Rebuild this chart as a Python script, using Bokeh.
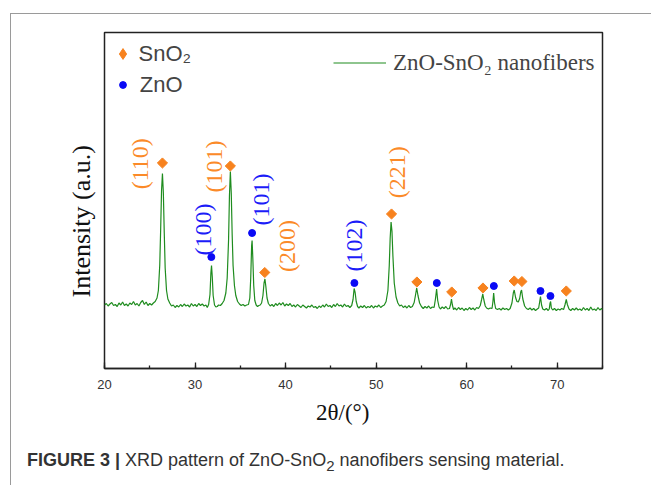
import numpy as np
from bokeh.plotting import figure
from bokeh.models import (ColumnDataSource, Legend, LegendItem, Range1d, SingleIntervalTicker,
                          Title, Div)
from bokeh.layouts import column
from bokeh.embed import file_html
from bokeh.resources import INLINE
from bokeh.core.properties import value

# ---------------- data ----------------
two_theta = [
    20.0, 20.2, 20.4, 20.6, 20.8, 21.0, 21.2, 21.4, 21.6, 21.8, 22.0, 22.2, 22.4, 22.6, 22.8,
    23.0, 23.2, 23.4, 23.6, 23.8, 24.0, 24.2, 24.4, 24.6, 24.8, 25.0, 25.2, 25.4,
    25.6, 25.8, 25.95, 26.1, 26.2, 26.3, 26.4, 26.5, 26.6, 26.7, 26.85, 27.0, 27.2,
    27.4, 27.6, 27.8, 28.0, 28.2, 28.4, 28.6, 28.8, 29.0, 29.2, 29.4, 29.6, 29.8, 30.0,
    30.2, 30.4, 30.6, 30.8, 31.0, 31.2, 31.35,
    31.5, 31.65, 31.75, 31.82, 31.9, 32.0, 32.15, 32.3, 32.45, 32.6, 32.8, 33.0,
    33.2, 33.4, 33.55, 33.7, 33.8, 33.9, 34.0, 34.1, 34.2, 34.35, 34.5, 34.7, 34.9,
    35.1, 35.3, 35.5, 35.7, 35.9,
    36.05, 36.15, 36.25, 36.3, 36.38, 36.48, 36.6, 36.75, 36.9, 37.05, 37.2, 37.35,
    37.5, 37.62, 37.72, 37.82, 37.95, 38.1, 38.3,
    38.5, 38.7, 38.9, 39.1, 39.3, 39.5, 39.7, 39.9, 40.1, 40.3, 40.5, 40.7, 40.9, 41.1,
    41.3, 41.5, 41.7, 41.9, 42.1, 42.3, 42.5, 42.7, 42.9, 43.1, 43.3, 43.5, 43.7, 43.9,
    44.1, 44.3, 44.5, 44.7, 44.9, 45.1, 45.3, 45.5, 45.7, 45.9, 46.1, 46.3, 46.5, 46.7,
    46.9, 47.1,
    47.3, 47.45, 47.57, 47.68, 47.8, 47.95, 48.1,
    48.3, 48.5, 48.7, 48.9, 49.1, 49.3, 49.5, 49.7, 49.9, 50.1, 50.3, 50.5, 50.7, 50.9,
    51.1, 51.3, 51.45, 51.55, 51.65, 51.75, 51.85, 52.0, 52.2, 52.4, 52.6, 52.8, 53.0,
    53.2, 53.4, 53.6, 53.8, 54.0,
    54.2, 54.35, 54.48, 54.62, 54.8, 55.0, 55.2, 55.4, 55.6, 55.8, 56.0, 56.2, 56.4,
    56.55, 56.68, 56.8, 56.95, 57.1, 57.3, 57.5, 57.7, 57.9, 58.1,
    58.22, 58.32, 58.42, 58.55, 58.7, 58.9, 59.1, 59.3, 59.5, 59.7, 59.9, 60.1, 60.3,
    60.5, 60.7, 60.9, 61.1, 61.3,
    61.5, 61.65, 61.78, 61.9, 62.05, 62.2, 62.4, 62.6, 62.8,
    62.9, 62.98, 63.08, 63.2, 63.4, 63.6, 63.8, 64.0, 64.2, 64.4, 64.6, 64.8,
    65.0, 65.15, 65.25, 65.4, 65.55, 65.7, 65.85, 65.97, 66.06, 66.2, 66.4, 66.6, 66.8,
    67.0, 67.2, 67.4, 67.6, 67.8,
    67.95, 68.05, 68.15, 68.27, 68.4, 68.6, 68.8, 69.0, 69.12,
    69.2, 69.27, 69.35, 69.5, 69.7, 69.9, 70.1, 70.3, 70.5, 70.7,
    70.85, 71.0, 71.12, 71.3, 71.5, 71.7, 71.9, 72.1, 72.3, 72.5, 72.7, 72.9, 73.1,
    73.3, 73.5, 73.7, 73.9, 74.1, 74.3, 74.5, 74.7, 74.9, 75.0,
]
intensity = [
    121, 124, 119, 123, 126, 120, 122, 118, 125, 121, 127, 120, 123, 119, 125,
    122, 128, 121, 124, 119, 126, 130, 122, 127, 120, 124, 121, 125,
    128, 135, 150, 200, 270, 350, 384, 345, 265, 195, 150, 133, 125,
    119, 121, 116, 120, 117, 122, 118, 123, 119, 121, 117, 124, 119, 122,
    118, 124, 120, 123, 119, 121, 116,
    122, 142, 185, 200, 178, 140, 121, 117, 118, 121, 120, 124,
    130, 145, 175, 250, 340, 388, 345, 262, 200, 160, 140, 128, 123,
    120, 122, 119, 121, 122,
    135, 175, 240, 250, 215, 160, 130, 121, 118, 120, 121, 125,
    140, 165, 173, 158, 135, 124, 119,
    122, 118, 124, 120, 125, 121, 126, 119, 123, 120, 124, 118, 121, 117,
    122, 119, 116, 121, 118, 115, 119, 117, 121, 116, 118, 114, 119, 116,
    121, 117, 123, 118, 120, 116, 122, 118, 124, 119, 121, 117, 123, 118,
    120, 116,
    120, 132, 154, 146, 128, 118, 115,
    119, 116, 120, 115, 118, 116, 120, 115, 119, 117, 121, 116, 119, 121,
    128, 150, 200, 255, 287, 268, 220, 165, 137, 125, 119, 121, 116,
    119, 115, 120, 116, 118,
    126, 141, 155, 140, 125, 118, 114, 118, 115, 119, 114, 117, 116,
    133, 153, 130, 117, 113, 117, 114, 118, 113, 114,
    122, 133, 121, 112, 115, 111, 116, 112, 115, 110, 114, 111, 116,
    112, 115, 111, 116, 114,
    120, 132, 143, 131, 119, 115, 113, 115, 114,
    128, 145, 125, 114, 112, 114, 111, 115, 112, 114, 111, 114,
    125, 145, 151, 136, 128, 127, 134, 147, 151, 133, 119, 114, 112,
    115, 111, 114, 110, 113,
    115, 126, 138, 121, 113, 111, 114, 110, 113,
    124, 128, 115, 111, 114, 110, 113, 111, 114, 112,
    121, 132, 122, 113, 110, 114, 111, 115, 111, 113, 110, 116, 111,
    114, 110, 117, 111, 113, 110, 116, 111, 114, 112,
]

# reflection markers (2theta, marker height)
sno2_theta = [26.4, 33.9, 37.7, 51.7, 54.5, 58.35, 61.8, 65.25, 66.1, 71.0]
sno2_mark = [405, 399, 186, 303, 167, 147, 155, 169, 168, 149]
zno_theta = [31.8, 36.3, 47.6, 56.7, 63.0, 68.15, 69.25]
zno_mark = [217, 265, 165, 165, 159, 149, 139]

# Miller-index labels: text, phase, index of the reflection in that phase's list
hkl_text = ["(110)", "(100)", "(101)", "(101)", "(200)", "(102)", "(221)"]
hkl_phase = ["SnO2", "ZnO", "SnO2", "ZnO", "SnO2", "ZnO", "SnO2"]
hkl_index = [0, 0, 1, 1, 2, 2, 3]

x_ticks = [20, 30, 40, 50, 60, 70]

# ---------------- styling / layout ----------------
GREEN = "#1f8c1f"
ORANGE = "#f7821e"
BLUE = "#0a0af5"
ORANGE_TXT = "#fb8a28"
BLUE_TXT = "#1c1cf8"
# pixel offsets of the hkl labels from their markers (dx, dy; dy down)
hkl_dx = [-22.7, -8.3, -15.9, 8.5, 22.2, -0.8, 5.7]
hkl_dy = [0.8, -27.5, 0.5, -33.5, -26.4, -37.5, -41.8]

W, H = 640, 430
FL, FR, FT, FB = 93, 49, 18, 76
X0, X1 = 20, 75
Y0, Y1 = -6, 666

p = figure(width=W, height=H, output_backend="svg", toolbar_location=None,
           x_range=Range1d(X0, X1), y_range=Range1d(Y0, Y1),
           y_axis_location=None,
           min_border_left=FL, min_border_right=FR, min_border_top=FT, min_border_bottom=FB)
p.grid.visible = False
p.background_fill_color = "white"
p.border_fill_color = "white"
p.outline_line_color = "#222222"
p.outline_line_width = 1.5

ax = p.xaxis[0]
ax.ticker = SingleIntervalTicker(interval=10, num_minor_ticks=2)
ax.axis_line_color = "#222222"
ax.axis_line_width = 1.5
ax.major_tick_in = 6
ax.major_tick_out = 0
ax.minor_tick_in = 3
ax.minor_tick_out = 0
ax.major_tick_line_color = "#222222"
ax.minor_tick_line_color = "#222222"
ax.major_tick_line_width = 1.3
ax.minor_tick_line_width = 1.3
ax.major_label_text_font = "Liberation Sans"
ax.major_label_text_font_size = "13px"
ax.major_label_text_color = "#333333"
ax.major_label_standoff = 11

r_line = p.line(two_theta, intensity, line_color=GREEN, line_width=1.2)
p.scatter(sno2_theta, sno2_mark, marker="square", angle=np.pi / 4, size=7.2,
          fill_color=ORANGE, line_color=ORANGE)
p.scatter(zno_theta, zno_mark, marker="circle", size=7,
          fill_color=BLUE, line_color=BLUE)
# legend-only key glyphs (a single undefined point, nothing drawn in the plot)
nan_pt = np.array([np.nan])
r_sn_key = p.scatter(nan_pt, nan_pt, marker="diamond", fill_color=ORANGE, line_color=ORANGE)
r_zn_key = p.scatter(nan_pt, nan_pt, marker="circle", fill_color=BLUE, line_color=BLUE)

# hkl labels
lx, ly, lc = [], [], []
for ph, i in zip(hkl_phase, hkl_index):
    if ph == "SnO2":
        lx.append(sno2_theta[i]); ly.append(sno2_mark[i]); lc.append(ORANGE_TXT)
    else:
        lx.append(zno_theta[i]); ly.append(zno_mark[i]); lc.append(BLUE_TXT)
src = ColumnDataSource(dict(x=lx, y=ly, t=hkl_text, c=lc, dx=hkl_dx, dy=hkl_dy))
p.text(x="x", y="y", text="t", source=src, text_color="c", x_offset="dx", y_offset="dy",
       angle=np.pi / 2, text_align="center", text_baseline="middle",
       text_font=value("Liberation Serif"), text_font_size="24px")

# legends
common = dict(margin=0, padding=0, spacing=0, background_fill_alpha=0, border_line_alpha=0)
legA = Legend(items=[LegendItem(label="SnO\u2082", renderers=[r_sn_key])],
              location=(4.5, 301), glyph_width=27, glyph_height=27, label_height=27,
              label_standoff=3, label_text_font="Liberation Sans", label_text_font_size="22px",
              **common)
legB = Legend(items=[LegendItem(label="ZnO", renderers=[r_zn_key])],
              location=(9.8, 270.5), glyph_width=17, glyph_height=17, label_height=17,
              label_standoff=9, label_text_font="Liberation Sans", label_text_font_size="22px",
              **common)
legC = Legend(items=[LegendItem(label="ZnO-SnO\u2082 nanofibers", renderers=[r_line])],
              location=(229, 283), glyph_width=53, glyph_height=45, label_height=45,
              label_standoff=7, label_text_font="Liberation Serif", label_text_font_size="23px",
              **common)
for lg in (legA, legB, legC):
    p.add_layout(lg)

# axis titles
p.add_layout(Title(text="2\u03b8/(\u00b0)", align="left", offset=211.5, standoff=12,
                   text_font="Liberation Serif", text_font_size="23px",
                   text_font_style="normal", text_color="#111111"), "below")
p.add_layout(Title(text="Intensity (a.u.)", align="left", offset=71, standoff=18,
                   text_font="Liberation Serif", text_font_size="26px",
                   text_font_style="normal", text_color="#111111"), "left")

caption = Div(text="<b>FIGURE 3 |</b> XRD pattern of ZnO-SnO<sub>2</sub> nanofibers sensing material.",
              width=630, height=41,
              styles={"font-family": "Liberation Sans", "font-size": "18px", "color": "#333333",
                      "padding-left": "11px", "line-height": "22px", "white-space": "nowrap"})

layout = column(p, caption,
                styles={"border-left": "1px solid #9a9a9a", "border-top": "1px solid #9a9a9a",
                        "margin-left": "10px", "margin-top": "13px"})

open("out.html", "w").write(file_html(layout, INLINE))
